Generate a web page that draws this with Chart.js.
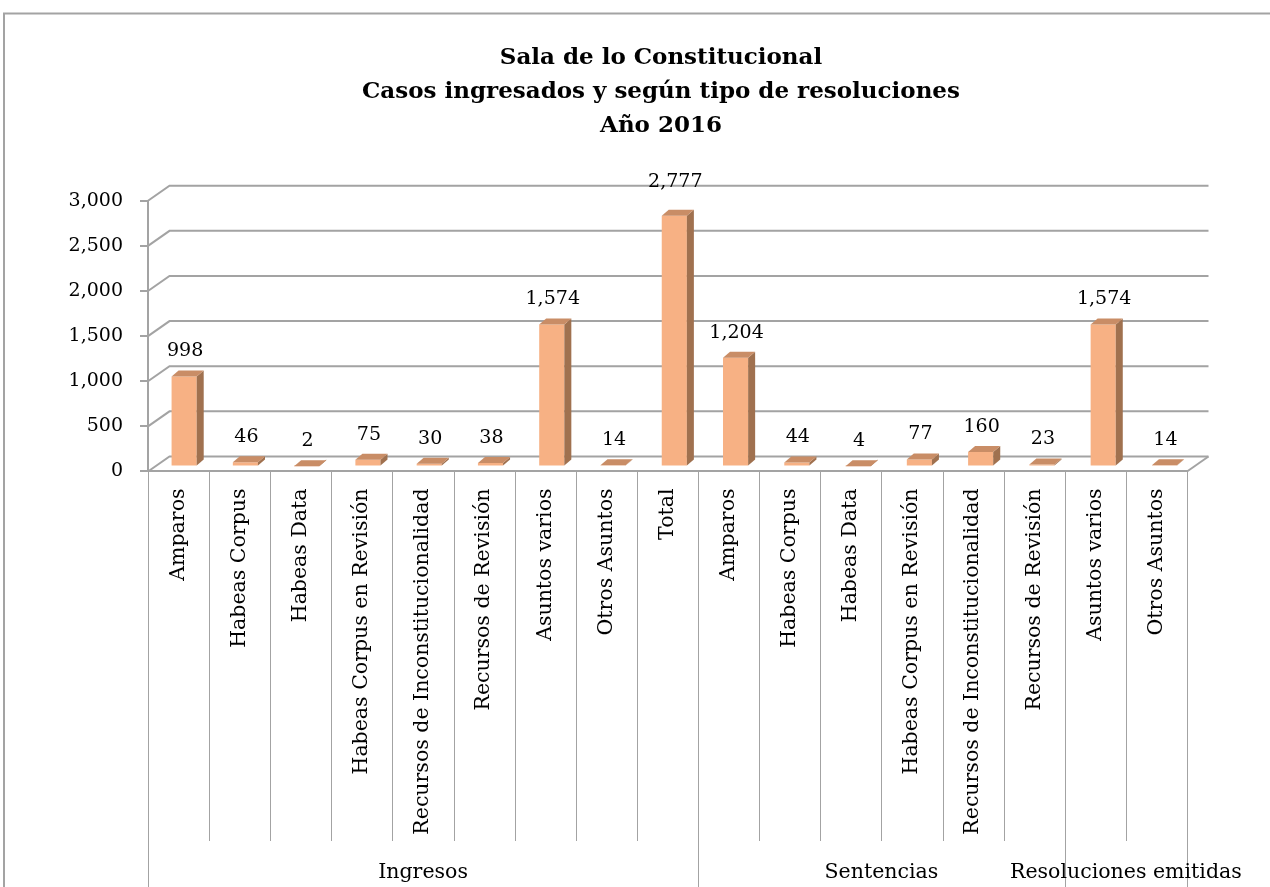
<!DOCTYPE html>
<html>
<head>
<meta charset="utf-8">
<script src="https://cdn.jsdelivr.net/npm/chart.js@4.4.0/dist/chart.umd.min.js"></script>
<style>
html, body { margin: 0; padding: 0; background: #fff; overflow: hidden; }
</style>
</head>
<body>
<canvas id="chart" width="1270" height="887"></canvas>
<script>
var titleLines = ['Sala de lo Constitucional', 'Casos ingresados y según tipo de resoluciones', 'Año 2016'];

var categories = ['Amparos', 'Habeas Corpus', 'Habeas Data', 'Habeas Corpus en Revisión',
    'Recursos de Inconstitucionalidad', 'Recursos de Revisión', 'Asuntos varios', 'Otros Asuntos', 'Total',
    'Amparos', 'Habeas Corpus', 'Habeas Data', 'Habeas Corpus en Revisión',
    'Recursos de Inconstitucionalidad', 'Recursos de Revisión', 'Asuntos varios', 'Otros Asuntos'];
var values = [998, 46, 2, 75, 30, 38, 1574, 14, 2777, 1204, 44, 4, 77, 160, 23, 1574, 14];

var groupLabels = ['Ingresos', 'Sentencias', 'Resoluciones emitidas'];
var groupSizes = [9, 6, 2];

var yTicks = [0, 500, 1000, 1500, 2000, 2500, 3000];
var yTickLabels = ['0', '500', '1,000', '1,500', '2,000', '2,500', '3,000'];

// 3d look
var WALL_DX = 21.5, WALL_DY = -15;   // back wall offset
var BAR_DX = 5.5, BAR_DY = -5;       // bars sit a bit behind the front plane
var DEPTH_X = 7, DEPTH_Y = -6;       // bar thickness
var lineGray = '#a3a3a3';

Chart.defaults.font.family = 'DejaVu Serif';
Chart.defaults.color = '#000';

var box3d = {
    id: 'box3d',
    beforeDraw: function (chart) {
        var ctx = chart.ctx, area = chart.chartArea, y = chart.scales.y;
        ctx.save();
        ctx.fillStyle = '#fff';
        ctx.fillRect(0, 0, chart.width, chart.height);

        // frame of the figure
        ctx.strokeStyle = lineGray;
        ctx.lineWidth = 2;
        ctx.beginPath();
        ctx.moveTo(4, chart.height);
        ctx.lineTo(4, 13.5);
        ctx.lineTo(chart.width, 13.5);
        ctx.stroke();

        // title
        ctx.fillStyle = '#000';
        ctx.font = 'bold 23px "DejaVu Serif"';
        ctx.textAlign = 'center';
        ctx.textBaseline = 'alphabetic';
        titleLines.forEach(function (t, i) {
            ctx.fillText(t, 661, 64 + i * 34);
        });

        // back wall grid and left side wall
        ctx.strokeStyle = lineGray;
        ctx.lineWidth = 2;
        yTicks.forEach(function (v) {
            var py = y.getPixelForValue(v);
            ctx.beginPath();
            ctx.moveTo(area.left, py);
            ctx.lineTo(area.left + WALL_DX, py + WALL_DY);
            ctx.lineTo(area.right + WALL_DX, py + WALL_DY);
            ctx.stroke();
        });
        // right edge of the floor
        ctx.beginPath();
        ctx.moveTo(area.right, area.bottom);
        ctx.lineTo(area.right + WALL_DX, area.bottom + WALL_DY);
        ctx.stroke();
        ctx.restore();
    },
    beforeDatasetsDraw: function (chart) {
        var ctx = chart.ctx, area = chart.chartArea;
        ctx.save();
        ctx.translate(area.left + BAR_DX, BAR_DY);
        ctx.scale(1.0025, 1);
        ctx.translate(-area.left, 0);
    },
    afterDatasetsDraw: function (chart) {
        var ctx = chart.ctx;
        var meta = chart.getDatasetMeta(0);
        meta.data.forEach(function (bar) {
            var l = bar.x - bar.width / 2, r = bar.x + bar.width / 2;
            var t = bar.y, b = bar.base;
            // side
            ctx.fillStyle = '#a0714f';
            ctx.beginPath();
            ctx.moveTo(r, t);
            ctx.lineTo(r + DEPTH_X, t + DEPTH_Y);
            ctx.lineTo(r + DEPTH_X, b + DEPTH_Y);
            ctx.lineTo(r, b);
            ctx.closePath();
            ctx.fill();
            // top
            ctx.fillStyle = '#c98d66';
            ctx.beginPath();
            ctx.moveTo(l, t);
            ctx.lineTo(l + DEPTH_X, t + DEPTH_Y);
            ctx.lineTo(r + DEPTH_X, t + DEPTH_Y);
            ctx.lineTo(r, t);
            ctx.closePath();
            ctx.fill();
        });
        // value labels
        ctx.fillStyle = '#000';
        ctx.font = '19px "DejaVu Serif"';
        ctx.textAlign = 'center';
        ctx.textBaseline = 'middle';
        meta.data.forEach(function (bar, i) {
            var lift = values[i] > 2500 ? 34 : 25; // top label gets pushed up in the original
            ctx.fillText(values[i].toLocaleString('en-US'), bar.x + 1, bar.y - lift);
        });
        ctx.restore();
    },
    afterDraw: function (chart) {
        var ctx = chart.ctx, area = chart.chartArea, x = chart.scales.x;
        var edges = [0], acc = 0;
        groupSizes.forEach(function (n) { acc += n; edges.push(acc); });
        ctx.save();
        ctx.strokeStyle = lineGray;
        ctx.lineWidth = 1;
        for (var i = 0; i <= categories.length; i++) {
            var px = Math.round(x.getPixelForValue(i - 0.5)) + 0.5;
            var end = edges.indexOf(i) >= 0 ? chart.height : 841;
            ctx.beginPath();
            ctx.moveTo(px, area.bottom);
            ctx.lineTo(px, end);
            ctx.stroke();
        }
        ctx.fillStyle = '#000';
        ctx.font = '20.5px "DejaVu Serif"';
        ctx.textAlign = 'center';
        ctx.textBaseline = 'middle';
        groupLabels.forEach(function (g, k) {
            var a = x.getPixelForValue(edges[k] - 0.5);
            var b = x.getPixelForValue(edges[k + 1] - 0.5);
            ctx.fillText(g, (a + b) / 2, 873);
        });
        ctx.restore();
    }
};

var chart = new Chart(document.getElementById('chart'), {
    type: 'bar',
    data: {
        labels: categories,
        datasets: [{
            data: values,
            backgroundColor: '#f7b184',
            borderWidth: 0,
            barPercentage: 0.41,
            categoryPercentage: 1
        }]
    },
    options: {
        responsive: false,
        animation: false,
        devicePixelRatio: 1,
        layout: { padding: { top: 200.7, right: 83, bottom: 0, left: 0 } },
        plugins: {
            legend: { display: false },
            tooltip: { enabled: false },
            title: { display: false }
        },
        scales: {
            x: {
                offset: true,
                grid: { display: false, drawTicks: false },
                border: { display: true, color: lineGray, width: 2 },
                ticks: {
                    autoSkip: false,
                    minRotation: 90,
                    maxRotation: 90,
                    padding: 17,
                    color: '#000',
                    font: { family: 'DejaVu Serif', size: 20.5 }
                },
                afterFit: function (s) { s.height = 415.5; }
            },
            y: {
                min: 0,
                max: 3000,
                grid: { drawOnChartArea: false, drawTicks: true, tickLength: 8, color: lineGray, lineWidth: 2 },
                border: { display: true, color: lineGray, width: 2 },
                ticks: {
                    stepSize: 500,
                    padding: 17,
                    color: '#000',
                    font: { family: 'DejaVu Serif', size: 19 },
                    callback: function (v) {
                        var k = yTicks.indexOf(v);
                        return k >= 0 ? yTickLabels[k] : '';
                    }
                },
                afterFit: function (s) { s.width = 148; }
            }
        }
    },
    plugins: [box3d]
});
</script>
</body>
</html>
